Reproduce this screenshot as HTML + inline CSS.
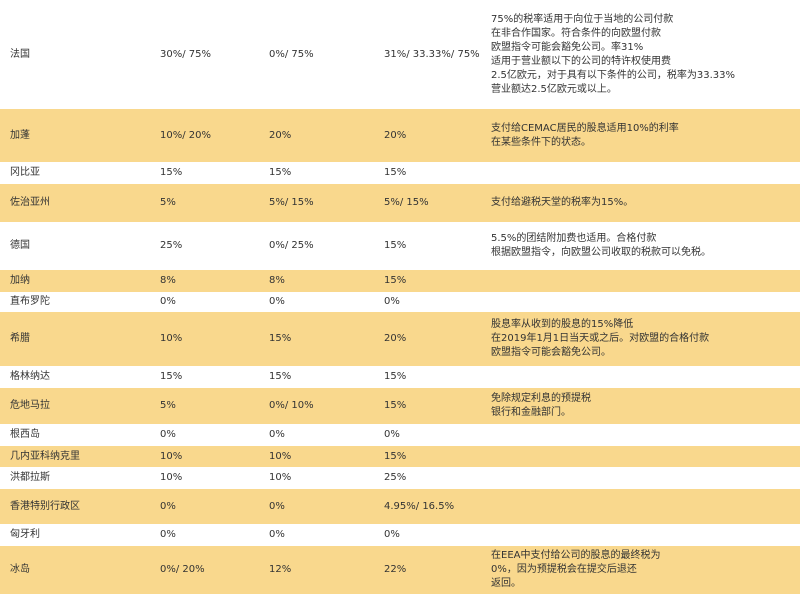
<!DOCTYPE html>
<html><head><meta charset="utf-8"><style>
body{margin:0;width:800px;height:595px;overflow:hidden;background:#fff;font-family:"DejaVu Sans","Noto Sans CJK SC",sans-serif;font-size:10px;color:#333;}
.r{position:absolute;left:0;width:800px;}
.t{background:#f9d88d;}
.c{position:absolute;top:0;height:100%;display:flex;align-items:center;line-height:14px;white-space:nowrap;}
.a{left:10px}.b{left:160px}.d{left:269px}.e{left:384px}.f{left:491px}
</style></head><body>
<div class="r" style="top:0;height:109px"><div class="c a">法国</div><div class="c b">30%/ 75%</div><div class="c d">0%/ 75%</div><div class="c e">31%/ 33.33%/ 75%</div><div class="c f">75%的税率适用于向位于当地的公司付款<br>在非合作国家。符合条件的向欧盟付款<br>欧盟指令可能会豁免公司。率31%<br>适用于营业额以下的公司的特许权使用费<br>2.5亿欧元，对于具有以下条件的公司，税率为33.33%<br>营业额达2.5亿欧元或以上。</div></div>
<div class="r t" style="top:109px;height:53px"><div class="c a">加蓬</div><div class="c b">10%/ 20%</div><div class="c d">20%</div><div class="c e">20%</div><div class="c f">支付给CEMAC居民的股息适用10%的利率<br>在某些条件下的状态。</div></div>
<div class="r" style="top:162px;height:22px"><div class="c a">冈比亚</div><div class="c b">15%</div><div class="c d">15%</div><div class="c e">15%</div></div>
<div class="r t" style="top:184px;height:38px"><div class="c a">佐治亚州</div><div class="c b">5%</div><div class="c d">5%/ 15%</div><div class="c e">5%/ 15%</div><div class="c f">支付给避税天堂的税率为15%。</div></div>
<div class="r" style="top:222px;height:48px"><div class="c a">德国</div><div class="c b">25%</div><div class="c d">0%/ 25%</div><div class="c e">15%</div><div class="c f">5.5%的团结附加费也适用。合格付款<br>根据欧盟指令，向欧盟公司收取的税款可以免税。</div></div>
<div class="r t" style="top:270px;height:22px"><div class="c a">加纳</div><div class="c b">8%</div><div class="c d">8%</div><div class="c e">15%</div></div>
<div class="r" style="top:292px;height:20px"><div class="c a">直布罗陀</div><div class="c b">0%</div><div class="c d">0%</div><div class="c e">0%</div></div>
<div class="r t" style="top:312px;height:54px"><div class="c a">希腊</div><div class="c b">10%</div><div class="c d">15%</div><div class="c e">20%</div><div class="c f">股息率从收到的股息的15%降低<br>在2019年1月1日当天或之后。对欧盟的合格付款<br>欧盟指令可能会豁免公司。</div></div>
<div class="r" style="top:366px;height:22px"><div class="c a">格林纳达</div><div class="c b">15%</div><div class="c d">15%</div><div class="c e">15%</div></div>
<div class="r t" style="top:388px;height:36px"><div class="c a">危地马拉</div><div class="c b">5%</div><div class="c d">0%/ 10%</div><div class="c e">15%</div><div class="c f">免除规定利息的预提税<br>银行和金融部门。</div></div>
<div class="r" style="top:424px;height:22px"><div class="c a">根西岛</div><div class="c b">0%</div><div class="c d">0%</div><div class="c e">0%</div></div>
<div class="r t" style="top:446px;height:21px"><div class="c a">几内亚科纳克里</div><div class="c b">10%</div><div class="c d">10%</div><div class="c e">15%</div></div>
<div class="r" style="top:467px;height:22px"><div class="c a">洪都拉斯</div><div class="c b">10%</div><div class="c d">10%</div><div class="c e">25%</div></div>
<div class="r t" style="top:489px;height:35px"><div class="c a">香港特别行政区</div><div class="c b">0%</div><div class="c d">0%</div><div class="c e">4.95%/ 16.5%</div></div>
<div class="r" style="top:524px;height:22px"><div class="c a">匈牙利</div><div class="c b">0%</div><div class="c d">0%</div><div class="c e">0%</div></div>
<div class="r t" style="top:546px;height:48px"><div class="c a">冰岛</div><div class="c b">0%/ 20%</div><div class="c d">12%</div><div class="c e">22%</div><div class="c f">在EEA中支付给公司的股息的最终税为<br>0%，因为预提税会在提交后退还<br>返回。</div></div>
</body></html>
